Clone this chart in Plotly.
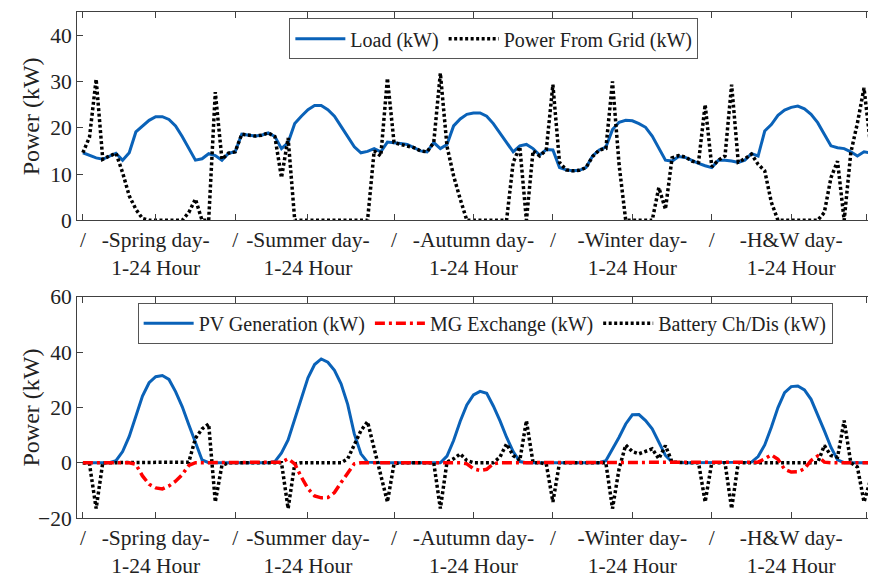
import plotly.graph_objects as go

# hour index 1..120 (5 representative days x 24 h)
hours = list(range(1, 121))

load_kw = [
    14.6, 14.0, 13.5, 13.2, 13.9, 14.5, 13.0, 14.6, 19.1, 20.4, 21.6, 22.4, 22.4, 21.8, 20.4, 18.1, 15.5, 13.0, 13.3, 14.4, 14.0, 13.0, 14.5, 14.8,
    18.6, 18.4, 18.2, 18.4, 18.9, 18.1, 15.5, 16.8, 20.9, 22.5, 23.9, 24.8, 24.8, 23.9, 22.5, 20.3, 18.2, 15.9, 14.6, 14.9, 15.5, 14.8, 16.9, 16.8,
    16.6, 16.4, 15.7, 15.0, 14.8, 16.8, 15.5, 16.4, 20.4, 21.9, 22.9, 23.2, 23.2, 22.5, 20.9, 18.9, 16.8, 14.8, 16.1, 16.4, 15.5, 14.1, 15.3, 15.2,
    11.4, 10.9, 10.7, 10.8, 11.4, 13.9, 15.2, 15.8, 19.6, 21.2, 21.6, 21.5, 20.9, 20.1, 18.2, 15.7, 13.0, 12.8, 13.8, 13.6, 12.9, 12.3, 11.8, 11.4,
    13.0, 13.0, 12.8, 12.5, 13.0, 14.4, 13.9, 19.3, 20.7, 22.7, 23.8, 24.4, 24.7, 24.1, 22.9, 21.1, 18.6, 16.1, 15.7, 15.5, 14.8, 13.9, 14.8, 14.6,
]

grid_kw = [
    14.6, 18.0, 30.5, 13.2, 13.9, 14.5, 10.3, 5.3, 2.4, 0.4, 0, 0, 0, 0, 0, 0, 1.7, 4.6, 0, 0, 27.7, 13.2, 14.5, 14.8,
    18.6, 18.4, 18.2, 18.4, 18.9, 18.1, 9.2, 17.8, 0, 0, 0, 0, 0, 0, 0, 0, 0, 0, 0, 0, 15.0, 13.9, 30.7, 16.8,
    16.4, 16.0, 15.7, 15.0, 14.8, 16.8, 31.8, 16.0, 9.6, 4.6, 0, 0, 0, 0, 0, 0, 0, 12.5, 15.9, 0, 15.0, 13.9, 15.2, 29.3,
    12.5, 10.9, 10.7, 10.8, 11.4, 13.8, 15.2, 15.5, 30.0, 12.0, 0, 0, 0, 0, 0, 7.1, 2.4, 13.5, 14.0, 13.7, 12.8, 12.5, 25.0, 11.6,
    13.0, 13.9, 29.3, 12.6, 13.3, 14.3, 12.1, 10.7, 3.9, 0, 0, 0, 0, 0, 0, 0, 1.7, 9.2, 12.8, 0, 14.6, 21.0, 28.6, 16.0,
]

pv_kw = [
    0, 0, 0, 0, 0, 0.7, 4.0, 9.5, 16.7, 24.1, 28.9, 31.1, 31.5, 30.1, 25.7, 20.3, 13.7, 7.4, 1.0, 0, 0, 0, 0, 0,
    0, 0, 0, 0, 0, 0.4, 3.5, 8.2, 15.5, 23.5, 30.7, 35.5, 37.5, 36.3, 33.4, 28.5, 21.1, 10.4, 3.2, 0.2, 0, 0, 0, 0,
    0, 0, 0, 0, 0, 0, 0, 2.4, 8.0, 15.0, 20.9, 24.5, 25.8, 25.1, 20.5, 15.2, 9.2, 4.0, 0.4, 0, 0, 0, 0, 0,
    0, 0, 0, 0, 0, 0, 0, 0.7, 4.8, 9.2, 14.0, 17.3, 17.4, 15.2, 12.2, 7.4, 2.6, 0.2, 0, 0, 0, 0, 0, 0,
    0, 0, 0, 0, 0, 0.2, 2.2, 6.4, 12.8, 19.9, 25.3, 27.5, 27.7, 26.3, 22.9, 17.5, 11.6, 5.6, 1.0, 0, 0, 0, 0, 0,
]

mg_kw = [
    0, 0, 0, 0, 0, 0, 0, 0, -0.6, -4.8, -7.8, -9.1, -9.5, -8.4, -6.7, -4.3, -1.0, 0, 0, 0, 0, 0, 0, 0,
    0, 0, 0, 0, 0, 0, 0.2, 1.4, -0.4, -5.2, -9.4, -12.0, -12.7, -12.6, -10.8, -7.2, -3.6, -0.4, 0, 0, 0, 0, 0, 0,
    0, 0, 0, 0, 0, 0, 0, 0, 0, 0, -0.4, -2.2, -2.8, -2.4, -0.4, 0, 0, 0, 0, 0, 0, 0, 0, 0,
    0, 0, 0, 0, 0, 0, 0, 0, 0, 0, 0, 0, 0, 0, 0, 0, 0, 0, 0, 0, 0, 0, 0, 0,
    0, 0, 0, 0, 0, 0, 0.2, 1.4, 2.8, 1.2, -2.4, -3.4, -3.3, -2.2, 0.8, 2.4, 0.2, 0, 0, 0, 0, 0, 0, 0,
]

battery_kw = [
    0, -0.5, -16.6, 0, 0, 0, 0, 0, 0, 0, 0, 0, 0, 0, 0, 0, 0.2, 8.8, 12.2, 14.0, -14.2, -1.0, 0, 0,
    0, 0, 0, 0, 0, 0, 0, -16.6, -0.5, 0, 0, 0, 0, 0, 0, 0, 1.4, 6.8, 11.6, 14.8, 5.0, -5.0, -14.2, -0.4,
    0, 0, 0, 0, 0, 0, -16.6, 0.2, 1.4, 3.2, 0.8, 0, 0, 0, 0, 2.0, 6.8, 2.6, 0.8, 15.2, 0, 0, -0.5, -14.2,
    0, 0, 0, 0, 0, 0, 0, 0, -16.6, -2.2, 6.4, 4.0, 3.2, 4.0, 5.0, 1.4, 6.2, 0.2, 0, 0, 0, 0, -14.2, 0,
    0, 0, -16.6, 0, 0, 0, 0, 0, 0, 0, 0, 0, 0, 0, 0, 0, 6.2, 2.6, 2.0, 15.2, 0, -1.6, -14.2, -6.0,
]

tick_vals = [1, 12, 24, 35, 48, 60, 72, 84, 96, 108, 119.3]
tick_text = ["/", "-Spring day-<br>1-24 Hour", "/", "-Summer day-<br>1-24 Hour", "/",
             "-Autumn day-<br>1-24 Hour", "/", "-Winter day-<br>1-24 Hour", "/",
             "-H&W day-<br>1-24 Hour", "/"]
top_y_ticks = [0, 10, 20, 30, 40]
bottom_y_ticks = [-20, 0, 20, 40, 60]

FONT = "'Liberation Serif', 'Times New Roman', 'DejaVu Serif', serif"
BLUE = "#0A62B8"
AX = "#404040"
TXT = "#222222"

fig = go.Figure()
fig.add_trace(go.Scatter(x=hours, y=load_kw, name="Load (kW)", mode="lines",
                         line=dict(color=BLUE, width=3), xaxis="x", yaxis="y", legend="legend"))
fig.add_trace(go.Scatter(x=hours, y=grid_kw, name="Power From Grid (kW)", mode="lines",
                         line=dict(color="black", width=3.5, dash="3px,2.5px"), xaxis="x", yaxis="y", legend="legend"))
fig.add_trace(go.Scatter(x=hours, y=pv_kw, name="PV Generation (kW)", mode="lines",
                         line=dict(color=BLUE, width=3), xaxis="x2", yaxis="y2", legend="legend2", legendrank=1))
fig.add_trace(go.Scatter(x=hours, y=battery_kw, name="Battery Ch/Dis (kW)", mode="lines",
                         line=dict(color="black", width=3.5, dash="3px,2.5px"), xaxis="x2", yaxis="y2", legend="legend2", legendrank=3))
fig.add_trace(go.Scatter(x=hours, y=mg_kw, name="MG Exchange (kW)", mode="lines",
                         line=dict(color="#FF0000", width=3.5, dash="10px,4px,3px,4px"), xaxis="x2", yaxis="y2", legend="legend2", legendrank=2))

xcommon = dict(range=[0.109, 119.6], tickmode="array", tickvals=tick_vals, ticktext=tick_text,
               ticks="inside", ticklen=6, tickcolor=AX, showline=True, linecolor=AX, linewidth=1,
               mirror="ticks", showgrid=False, zeroline=False,
               tickfont=dict(family=FONT, size=21.5, color=TXT), domain=[0, 1])
ycommon = dict(ticks="inside", ticklen=6, tickcolor=AX, showline=True, linecolor=AX, linewidth=1,
               mirror=False, showgrid=False, zeroline=False,
               tickfont=dict(family=FONT, size=21.5, color=TXT))

legcommon = dict(orientation="h", xanchor="center", yanchor="middle", bgcolor="white",
                 bordercolor="#555555", borderwidth=1, font=dict(family=FONT, size=20, color=TXT),
                 itemwidth=50, traceorder="normal")

fig.update_layout(
    width=869, height=583,
    margin=dict(l=77, r=1, t=8, b=65),
    font=dict(family=FONT, color=TXT),
    plot_bgcolor="white", paper_bgcolor="white",
    xaxis=dict(anchor="y", **xcommon),
    xaxis2=dict(anchor="y2", **xcommon),
    yaxis=dict(domain=[0.5882, 1.0], anchor="x", range=[0, 45], tickvals=top_y_ticks, **ycommon),
    yaxis2=dict(domain=[0.0, 0.4373], anchor="x2", range=[-20, 60], tickvals=bottom_y_ticks, **ycommon),
    legend=dict(x=0.527, y=0.947, **legcommon),
    legend2=dict(x=0.516, y=0.385, **legcommon),
    annotations=[
        dict(text="Power (kW)", xref="paper", yref="paper", x=-0.058, y=0.794, textangle=-90,
             showarrow=False, xanchor="center", yanchor="middle", font=dict(family=FONT, size=24, color=TXT)),
        dict(text="Power (kW)", xref="paper", yref="paper", x=-0.058, y=0.2186, textangle=-90,
             showarrow=False, xanchor="center", yanchor="middle", font=dict(family=FONT, size=24, color=TXT)),
    ],
)

fig.write_html("out.html")
